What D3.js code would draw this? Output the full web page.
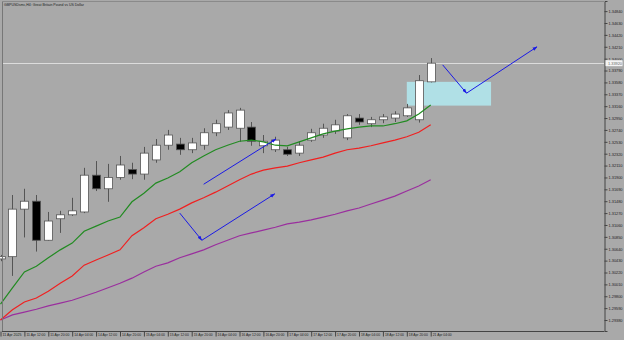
<!DOCTYPE html>
<html>
<head>
<meta charset="utf-8">
<script src="https://cdn.jsdelivr.net/npm/d3@7"></script>
<style>
  html, body { margin: 0; padding: 0; background: #a9a9a9; }
  svg { display: block; }
  text { font-family: "Liberation Sans", Arial, sans-serif; }
</style>
</head>
<body>
<div id="chart"></div>
<script>
// GBPUSD H4 bars
const opens  = [1.3046, 1.3050, 1.3134, 1.3148, 1.3079, 1.3117, 1.3124, 1.3129, 1.3194, 1.3170,
                1.3190, 1.3204, 1.3196, 1.3221, 1.3247, 1.3249, 1.3239, 1.3247, 1.3269, 1.3279,
                1.3277, 1.3279, 1.3246, 1.3239, 1.3239, 1.3233, 1.3256, 1.3265, 1.3272, 1.3260,
                1.3295, 1.3285, 1.3292, 1.3295, 1.3299, 1.3292, 1.3359];
const highs  = [1.3053, 1.3159, 1.3170, 1.3159, 1.3129, 1.3131, 1.3154, 1.3207, 1.3219, 1.3214,
                1.3228, 1.3216, 1.3244, 1.3258, 1.3274, 1.3260, 1.3260, 1.3277, 1.3292, 1.3309,
                1.3313, 1.3288, 1.3265, 1.3262, 1.3244, 1.3254, 1.3276, 1.3285, 1.3292, 1.3302,
                1.3302, 1.3297, 1.3302, 1.3307, 1.3320, 1.3371, 1.3401];
const lows   = [1.3042, 1.3016, 1.3084, 1.3059, 1.3078, 1.3092, 1.3122, 1.3127, 1.3166, 1.3147,
                1.3186, 1.3187, 1.3186, 1.3216, 1.3239, 1.3230, 1.3233, 1.3239, 1.3263, 1.3274,
                1.3253, 1.3246, 1.3233, 1.3235, 1.3228, 1.3228, 1.3253, 1.3260, 1.3267, 1.3256,
                1.3283, 1.3279, 1.3286, 1.3288, 1.3297, 1.3287, 1.3358];
const closes = [1.3050, 1.3134, 1.3148, 1.3079, 1.3113, 1.3124, 1.3131, 1.3194, 1.3170, 1.3190,
                1.3212, 1.3196, 1.3233, 1.3247, 1.3265, 1.3239, 1.3251, 1.3269, 1.3285, 1.3304,
                1.3309, 1.3254, 1.3254, 1.3256, 1.3231, 1.3247, 1.3269, 1.3277, 1.3283, 1.3299,
                1.3288, 1.3292, 1.3297, 1.3302, 1.3313, 1.3361, 1.3392];

// moving averages
const maGreen  = [1.2966, 1.2995, 1.3023, 1.3033, 1.3048, 1.3062, 1.3074, 1.3095, 1.3104, 1.3113,
                  1.3120, 1.3147, 1.3162, 1.3180, 1.3189, 1.3200, 1.3216, 1.3228, 1.3239, 1.3247,
                  1.3254, 1.3256, 1.3253, 1.3247, 1.3246, 1.3253, 1.3260, 1.3267, 1.3272, 1.3276,
                  1.3279, 1.3281, 1.3281, 1.3285, 1.3290, 1.3302, 1.3318];
const maRed    = [1.2938, 1.2956, 1.2970, 1.2977, 1.2989, 1.3003, 1.3016, 1.3035, 1.3044, 1.3053,
                  1.3062, 1.3087, 1.3101, 1.3117, 1.3125, 1.3134, 1.3145, 1.3154, 1.3164, 1.3175,
                  1.3186, 1.3196, 1.3203, 1.3207, 1.3210, 1.3216, 1.3221, 1.3226, 1.3233, 1.3239,
                  1.3242, 1.3246, 1.3251, 1.3256, 1.3262, 1.3270, 1.3283];
const maPurple = [1.2938, 1.2947, 1.2952, 1.2957, 1.2963, 1.2968, 1.2973, 1.2980, 1.2987, 1.2995,
                  1.3003, 1.3012, 1.3023, 1.3033, 1.3039, 1.3048, 1.3055, 1.3062, 1.3071, 1.3079,
                  1.3087, 1.3092, 1.3097, 1.3102, 1.3108, 1.3111, 1.3115, 1.3120, 1.3125, 1.3131,
                  1.3136, 1.3143, 1.3150, 1.3157, 1.3166, 1.3175, 1.3186];

const timeLabels = ['11 Apr 2025', '11 Apr 12:00', '11 Apr 20:00', '14 Apr 04:00', '14 Apr 12:00',
                    '14 Apr 20:00', '15 Apr 04:00', '15 Apr 12:00', '15 Apr 20:00', '16 Apr 04:00',
                    '16 Apr 12:00', '16 Apr 20:00', '17 Apr 04:00', '17 Apr 12:00', '17 Apr 20:00',
                    '18 Apr 04:00', '18 Apr 12:00', '18 Apr 20:00', '21 Apr 04:00'];

const priceTicks = [1.29380, 1.29590, 1.29800, 1.30010, 1.30220, 1.30430, 1.30640, 1.30850, 1.31060,
                    1.31270, 1.31480, 1.31690, 1.31900, 1.32110, 1.32320, 1.32530, 1.32740, 1.32950,
                    1.33160, 1.33370, 1.33580, 1.33790, 1.34000, 1.34210, 1.34420, 1.34630, 1.34840];

// drawn objects: [bar index, price]
const zoneBox = [[34.0, 1.3359], [41.05, 1.3317]];
const arrowPaths = [
  [[17.0, 1.3178], [23.05, 1.3258]],
  [[15.0, 1.3127], [16.85, 1.3079], [22.95, 1.3161]],
  [[37.0, 1.3389], [39.0, 1.3339], [44.9, 1.3421]]
];

const title = 'GBPUSDsmc,H4:  Great Britain Pound vs US Dollar';

const width = 624;
const height = 340;
const plot = { left: 2, right: 604, top: 1, bottom: 331 };

const svg = d3.select('#chart')
  .append('svg')
  .attr('width', width)
  .attr('height', height);

svg.append('rect').attr('width', width).attr('height', height).attr('fill', '#a9a9a9');

const xScale = d3.scaleLinear().domain([0, closes.length - 1]).range([0.5, 430.7]);
const yScale = d3.scaleLinear().domain([1.29186, 1.35019]).range([plot.bottom, plot.top]);

const bars = closes.map((c, i) => ({ i, o: opens[i], h: highs[i], l: lows[i], c }));

// arrow marker
svg.append('defs').append('marker')
  .attr('id', 'arrow')
  .attr('viewBox', '0 0 10 10')
  .attr('refX', 9).attr('refY', 5)
  .attr('markerWidth', 5).attr('markerHeight', 5)
  .attr('orient', 'auto')
  .append('path')
  .attr('d', 'M0,1.5 L10,5 L0,8.5 z')
  .attr('fill', '#1a1ae6');

// zone rectangle (behind the bars)
svg.append('rect')
  .attr('x', xScale(zoneBox[0][0]))
  .attr('y', yScale(zoneBox[0][1]))
  .attr('width', xScale(zoneBox[1][0]) - xScale(zoneBox[0][0]))
  .attr('height', yScale(zoneBox[1][1]) - yScale(zoneBox[0][1]))
  .attr('fill', '#b0e0e6');

// bid line
const lastPrice = closes[closes.length - 1];
svg.append('line')
  .attr('x1', plot.left).attr('x2', plot.right)
  .attr('y1', Math.round(yScale(lastPrice)) + 0.5)
  .attr('y2', Math.round(yScale(lastPrice)) + 0.5)
  .attr('stroke', '#dcdcdc')
  .attr('stroke-width', 1);

// candles
const candles = svg.append('g').attr('class', 'candles');

candles.selectAll('line')
  .data(bars)
  .join('line')
  .attr('x1', d => Math.round(xScale(d.i)) + 0.5)
  .attr('x2', d => Math.round(xScale(d.i)) + 0.5)
  .attr('y1', d => yScale(d.h))
  .attr('y2', d => yScale(d.l))
  .attr('stroke', '#555')
  .attr('stroke-width', 1);

candles.selectAll('rect')
  .data(bars)
  .join('rect')
  .attr('x', d => Math.round(xScale(d.i)) - 3.5)
  .attr('width', 8)
  .attr('y', d => yScale(Math.max(d.o, d.c)))
  .attr('height', d => Math.max(1, Math.abs(yScale(d.o) - yScale(d.c))))
  .attr('fill', d => d.c >= d.o ? '#ffffff' : '#000000')
  .attr('stroke', '#555')
  .attr('stroke-width', 0.8);

// moving averages
const maLine = d3.line()
  .x((d, i) => xScale(i))
  .y(d => yScale(d));

[[maPurple, '#9a2f9e'], [maRed, '#f02020'], [maGreen, '#228b22']].forEach(([values, color]) => {
  svg.append('path')
    .datum(values)
    .attr('d', maLine)
    .attr('fill', 'none')
    .attr('stroke', color)
    .attr('stroke-width', 1.2);
});

// hand drawn arrows
arrowPaths.forEach(pts => {
  for (let k = 1; k < pts.length; k++) {
    svg.append('line')
      .attr('x1', xScale(pts[k - 1][0])).attr('y1', yScale(pts[k - 1][1]))
      .attr('x2', xScale(pts[k][0])).attr('y2', yScale(pts[k][1]))
      .attr('stroke', '#1a1ae6')
      .attr('stroke-width', 1)
      .attr('marker-end', 'url(#arrow)');
  }
});

// frame
svg.append('line')
  .attr('x1', plot.left + 0.5).attr('x2', plot.left + 0.5)
  .attr('y1', plot.top).attr('y2', plot.bottom)
  .attr('stroke', '#777');
svg.append('line')
  .attr('x1', plot.left).attr('x2', plot.right)
  .attr('y1', plot.top + 0.5).attr('y2', plot.top + 0.5)
  .attr('stroke', '#8a8a8a');

// right price axis
const yAxis = d3.axisRight(yScale)
  .tickValues(priceTicks)
  .tickSize(3)
  .tickFormat(d3.format('.5f'));

const gy = svg.append('g')
  .attr('transform', `translate(${plot.right + 0.5}, 0)`)
  .call(yAxis);
gy.select('.domain').attr('stroke', '#444');
gy.selectAll('.tick line').attr('stroke', '#444');
gy.selectAll('.tick text')
  .attr('x', 4)
  .attr('fill', '#222')
  .attr('textLength', 14)
  .attr('lengthAdjust', 'spacingAndGlyphs')
  .style('font-size', '4.2px');

// current price label
const yLast = yScale(lastPrice);
svg.append('rect')
  .attr('x', plot.right + 1.5).attr('y', yLast - 3)
  .attr('width', 17).attr('height', 6)
  .attr('fill', '#f4f4f4');
svg.append('text')
  .attr('x', plot.right + 4).attr('y', yLast)
  .attr('dy', '0.35em')
  .attr('fill', '#666')
  .attr('textLength', 14)
  .attr('lengthAdjust', 'spacingAndGlyphs')
  .style('font-size', '4.2px')
  .text(d3.format('.5f')(lastPrice));

// bottom time axis
const labelIdx = timeLabels.map((_, k) => k * 2);
const xAxis = d3.axisBottom(xScale)
  .tickValues(labelIdx)
  .tickSize(5)
  .tickFormat((d, k) => timeLabels[k]);

const gx = svg.append('g')
  .attr('transform', `translate(0, ${plot.bottom + 0.5})`)
  .call(xAxis);
gx.select('.domain').attr('d', `M${plot.left},0H${plot.right + 0.5}`).attr('stroke', '#444');
gx.selectAll('.tick line').attr('stroke', '#444');
gx.selectAll('.tick text')
  .attr('text-anchor', 'start')
  .attr('x', 1.5)
  .attr('y', 2)
  .attr('fill', '#222')
  .attr('textLength', 19)
  .attr('lengthAdjust', 'spacingAndGlyphs')
  .style('font-size', '4.2px');

// title
svg.append('text')
  .attr('x', 4).attr('y', 6)
  .attr('fill', '#222')
  .attr('textLength', 80)
  .attr('lengthAdjust', 'spacingAndGlyphs')
  .style('font-size', '4.4px')
  .text(title);
</script>
</body>
</html>
